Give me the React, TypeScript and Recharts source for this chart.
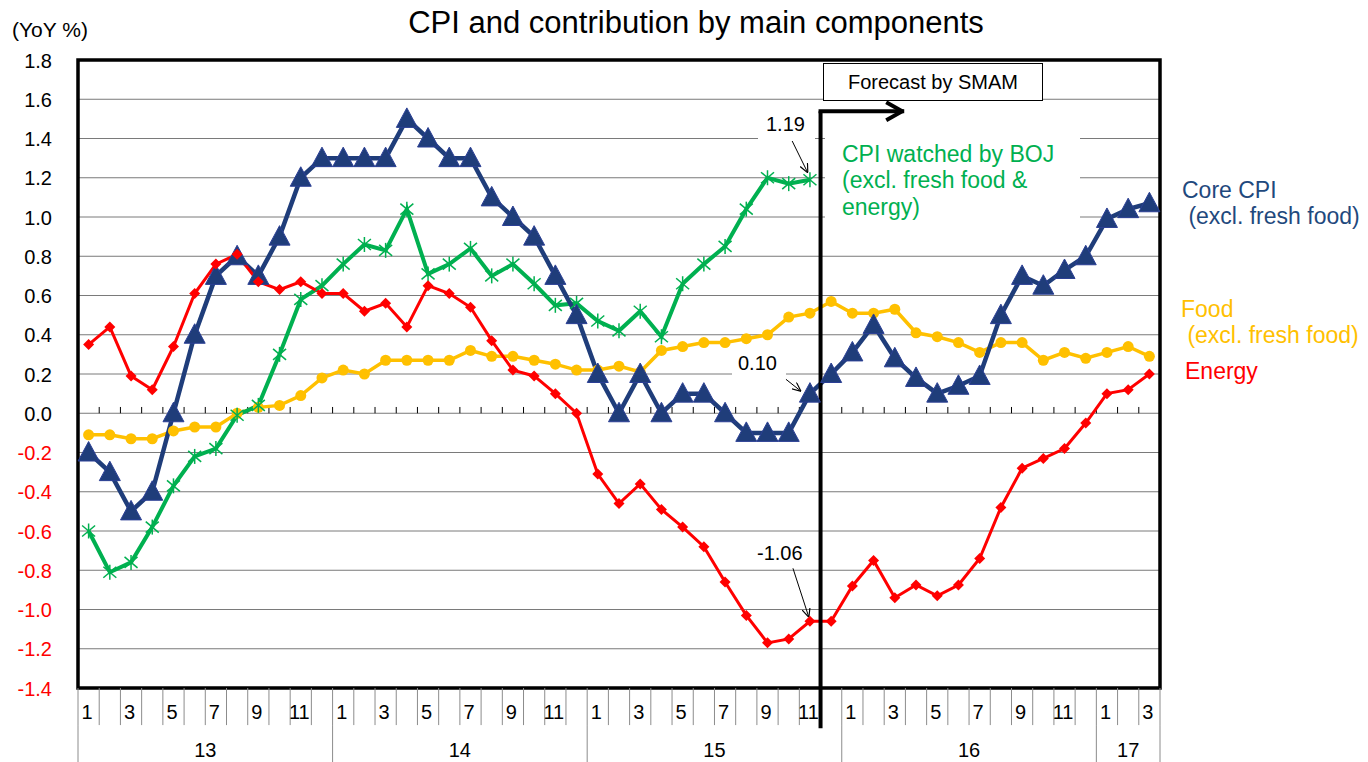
import React from 'react'
import { LineChart, Line, XAxis, YAxis, CartesianGrid, ReferenceLine, ReferenceArea } from 'recharts'

// month number for each point, Jan 2013 .. Mar 2017
const monthLabels = [
  1, 2, 3, 4, 5, 6, 7, 8, 9, 10, 11, 12,
  1, 2, 3, 4, 5, 6, 7, 8, 9, 10, 11, 12,
  1, 2, 3, 4, 5, 6, 7, 8, 9, 10, 11, 12,
  1, 2, 3, 4, 5, 6, 7, 8, 9, 10, 11, 12,
  1, 2, 3,
]
const yearLabels = ['13', '14', '15', '16', '17']
const yearCenters = [5.5, 17.5, 29.5, 41.5, 49]
const yearEdges = [-0.5, 11.5, 23.5, 35.5, 47.5, 50.5]
const yTicks = [-1.4, -1.2, -1.0, -0.8, -0.6, -0.4, -0.2, 0, 0.2, 0.4, 0.6, 0.8, 1.0, 1.2, 1.4, 1.6, 1.8]

const coreCpi = [
  -0.2, -0.3, -0.5, -0.4, 0.0, 0.4, 0.7, 0.8, 0.7, 0.9, 1.2, 1.3,
  1.3, 1.3, 1.3, 1.5, 1.4, 1.3, 1.3, 1.1, 1.0, 0.9, 0.7, 0.5,
  0.2, 0.0, 0.2, 0.0, 0.1, 0.1, 0.0, -0.1, -0.1, -0.1, 0.1, 0.2,
  0.31, 0.45, 0.28, 0.18, 0.1, 0.14, 0.19, 0.5, 0.7, 0.65, 0.73, 0.8,
  0.99, 1.04, 1.07,
]
const food = [
  -0.11, -0.11, -0.13, -0.13, -0.09, -0.07, -0.07, 0.0, 0.03, 0.04, 0.09, 0.18,
  0.22, 0.2, 0.27, 0.27, 0.27, 0.27, 0.32, 0.29, 0.29, 0.27, 0.25, 0.22,
  0.22, 0.24, 0.21, 0.32, 0.34, 0.36, 0.36, 0.38, 0.4, 0.49, 0.51, 0.57,
  0.51, 0.51, 0.53, 0.41, 0.39, 0.36, 0.31, 0.36, 0.36, 0.27, 0.31, 0.28,
  0.31, 0.34, 0.29,
]
const energy = [
  0.35, 0.44, 0.19, 0.12, 0.34, 0.61, 0.76, 0.81, 0.67, 0.63, 0.67, 0.61,
  0.61, 0.52, 0.56, 0.44, 0.65, 0.61, 0.54, 0.37, 0.22, 0.19, 0.1, 0.0,
  -0.31, -0.46, -0.36, -0.49, -0.58, -0.68, -0.86, -1.03, -1.17, -1.15, -1.06, -1.06,
  -0.88, -0.75, -0.94, -0.875, -0.93, -0.875, -0.74, -0.48, -0.28, -0.23, -0.18, -0.05,
  0.1, 0.12, 0.2,
]
// actual data only (to Nov 2015)
const bojCpi = [
  -0.6, -0.81, -0.76, -0.58, -0.37, -0.22, -0.18, -0.01, 0.04, 0.3, 0.58, 0.65,
  0.76, 0.86, 0.83, 1.04, 0.71, 0.76, 0.84, 0.7, 0.76, 0.66, 0.55, 0.56,
  0.47, 0.42, 0.52, 0.39, 0.66, 0.76, 0.85, 1.04, 1.2, 1.17, 1.19,
]

const rows = monthLabels.map((m, i) => ({
  i,
  month: m,
  core: coreCpi[i],
  food: food[i],
  energy: energy[i],
  boj: i < bojCpi.length ? bojCpi[i] : null,
}))

const monthTicks = rows.map(r => r.i)
const monthEdges = [...rows.map(r => r.i - 0.5), rows.length - 0.5]
const zeroTicks = monthEdges.slice(1, -1)

const FONT = '"Liberation Sans", Arial, sans-serif'
const BLUE = '#1F3D7A'
const GREEN = '#00B050'
const RED = '#FF0000'
const GOLD = '#FFC000'

const YTick = (props: any) => {
  const { x, y, payload } = props
  const v = payload.value as number
  return (
    <text x={x - 26} y={y + 7.5} textAnchor="end" fontSize={20} fontFamily={FONT} fill={v < 0 ? RED : '#000'}>
      {v.toFixed(1)}
    </text>
  )
}

const MonthTick = (props: any) => {
  const { x, y, payload } = props
  const m = monthLabels[payload.value]
  if (m % 2 === 0) return <g />
  return (
    <text x={x - 1.5} y={y + 31} textAnchor="middle" fontSize={20} fontFamily={FONT} fill="#000">
      {m}
    </text>
  )
}

const YearTick = (props: any) => {
  const { x, y, payload } = props
  const k = yearCenters.indexOf(payload.value)
  return (
    <text x={x} y={y + 32} textAnchor="middle" fontSize={20} fontFamily={FONT} fill="#000">
      {yearLabels[k]}
    </text>
  )
}

const triDot = (p: any) => {
  if (p.cy == null) return <g key={`t${p.index}`} />
  const { cx, cy } = p
  return (
    <polygon
      key={`t${p.index}`}
      points={`${cx},${cy - 11} ${cx - 10.5},${cy + 8.5} ${cx + 10.5},${cy + 8.5}`}
      fill={BLUE}
      stroke="#2B3F95"
      strokeWidth={1}
    />
  )
}

const starDot = (p: any) => {
  if (p.cy == null) return <g key={`s${p.index}`} />
  const { cx, cy } = p
  return (
    <g key={`s${p.index}`} stroke={GREEN} strokeWidth={1.5}>
      <line x1={cx} y1={cy - 7.5} x2={cx} y2={cy + 7.5} />
      <line x1={cx - 6.5} y1={cy - 5.5} x2={cx + 6.5} y2={cy + 5.5} />
      <line x1={cx - 6.5} y1={cy + 5.5} x2={cx + 6.5} y2={cy - 5.5} />
    </g>
  )
}

const diamondDot = (p: any) => {
  if (p.cy == null) return <g key={`d${p.index}`} />
  const { cx, cy } = p
  return (
    <polygon
      key={`d${p.index}`}
      points={`${cx},${cy - 5.5} ${cx + 5.5},${cy} ${cx},${cy + 5.5} ${cx - 5.5},${cy}`}
      fill={RED}
    />
  )
}

const circleDot = (p: any) => {
  if (p.cy == null) return <g key={`c${p.index}`} />
  return <circle key={`c${p.index}`} cx={p.cx} cy={p.cy} r={5.5} fill={GOLD} />
}

// text placed by baseline
const Txt = ({ x, base, size, color = '#000', center = false, children }: any) => (
  <div
    style={{
      position: 'absolute',
      left: x,
      top: base - 0.8465 * size,
      fontSize: size,
      lineHeight: `${size}px`,
      color,
      fontFamily: FONT,
      whiteSpace: 'pre',
      transform: center ? 'translateX(-50%)' : undefined,
    }}
  >
    {children}
  </div>
)

const WhiteBox = ({ x, y, w, h, border = false }: any) => (
  <div
    style={{
      position: 'absolute',
      left: x,
      top: y,
      width: w,
      height: h,
      background: '#fff',
      border: border ? '1px solid #000' : 'none',
      boxSizing: 'border-box',
    }}
  />
)

export default function App() {
  return (
    <div style={{ position: 'absolute', left: 0, top: 0, width: 1368, height: 762, background: '#fff', overflow: 'hidden' }}>
      <LineChart width={1368} height={762} data={rows} margin={{ top: 60, right: 208, bottom: 0, left: 12 }}>
        <defs>
          <marker id="thinArrow" viewBox="0 0 10 10" refX={10} refY={5} markerWidth={9} markerHeight={9} markerUnits="userSpaceOnUse" orient="auto">
            <path d="M0,0.5 L10,5 L0,9.5" fill="none" stroke="#000" strokeWidth={1.3} />
          </marker>
          <marker id="boldArrow" viewBox="0 0 20 22" refX={18} refY={11} markerWidth={20} markerHeight={22} markerUnits="userSpaceOnUse" orient="auto">
            <path d="M2,2 L18,11 L2,20" fill="none" stroke="#000" strokeWidth={4} />
          </marker>
        </defs>
        <CartesianGrid vertical={false} stroke="#7a7a7a" strokeWidth={1} />
        <XAxis
          xAxisId={0}
          type="number"
          dataKey="i"
          domain={[-0.5, 50.5]}
          ticks={monthTicks}
          interval={0}
          height={37}
          axisLine={false}
          tickLine={false}
          tickSize={0}
          tickMargin={0}
          tick={MonthTick}
        />
        <XAxis
          xAxisId="yr"
          type="number"
          dataKey="i"
          domain={[-0.5, 50.5]}
          ticks={yearCenters}
          interval={0}
          height={37}
          axisLine={false}
          tickLine={false}
          tickSize={0}
          tickMargin={0}
          tick={YearTick}
        />
        <YAxis
          type="number"
          domain={[-1.4, 1.8]}
          ticks={yTicks}
          interval={0}
          width={66}
          axisLine={false}
          tickLine={false}
          tickSize={0}
          tickMargin={0}
          tick={YTick}
        />

        {/* month and year separators under the plot */}
        {monthEdges.map(b => (
          <ReferenceLine key={`ms${b}`} ifOverflow="visible" stroke="#8c8c8c" strokeWidth={1} segment={[{ x: b, y: -1.4 }, { x: b, y: -1.589 }]} />
        ))}
        {yearEdges.map(b => (
          <ReferenceLine key={`ys${b}`} ifOverflow="visible" stroke="#8c8c8c" strokeWidth={1} segment={[{ x: b, y: -1.589 }, { x: b, y: -1.78 }]} />
        ))}
        {/* small tick marks on the zero line */}
        {zeroTicks.map(b => (
          <ReferenceLine key={`zt${b}`} ifOverflow="visible" stroke="#000" strokeWidth={1} segment={[{ x: b, y: 0 }, { x: b, y: 0.032 }]} />
        ))}

        <Line type="linear" dataKey="food" stroke={GOLD} strokeWidth={3.5} dot={circleDot} activeDot={false} isAnimationActive={false} />
        <Line type="linear" dataKey="boj" stroke={GREEN} strokeWidth={4} dot={starDot} activeDot={false} isAnimationActive={false} />
        <Line type="linear" dataKey="core" stroke={BLUE} strokeWidth={4.5} dot={triDot} activeDot={false} isAnimationActive={false} />
        <Line type="linear" dataKey="energy" stroke={RED} strokeWidth={3} dot={diamondDot} activeDot={false} isAnimationActive={false} />

        {/* plot frame */}
        <ReferenceArea x1={-0.5} x2={50.5} y1={-1.4} y2={1.8} ifOverflow="visible" fill="none" stroke="#000" strokeWidth={3.5} />

        {/* forecast divider with arrow */}
        <ReferenceLine ifOverflow="visible" stroke="#000" strokeWidth={4} segment={[{ x: 34.5, y: -1.605 }, { x: 34.5, y: 1.539 }]} />
        <ReferenceLine ifOverflow="visible" stroke="#000" strokeWidth={4} strokeLinecap="square" markerEnd="url(#boldArrow)" segment={[{ x: 34.5, y: 1.539 }, { x: 38.35, y: 1.539 }]} />

        {/* annotation arrows */}
        <ReferenceLine ifOverflow="visible" stroke="#000" strokeWidth={1} markerEnd="url(#thinArrow)" segment={[{ x: 33.15, y: 1.39 }, { x: 33.9, y: 1.225 }]} />
        <ReferenceLine ifOverflow="visible" stroke="#000" strokeWidth={1} markerEnd="url(#thinArrow)" segment={[{ x: 32.87, y: 0.173 }, { x: 33.58, y: 0.112 }]} />
        <ReferenceLine ifOverflow="visible" stroke="#000" strokeWidth={1} markerEnd="url(#thinArrow)" segment={[{ x: 33.2, y: -0.79 }, { x: 33.95, y: -1.04 }]} />
      </LineChart>

      <Txt x={696} base={33} size={31} center>CPI and contribution by main components</Txt>
      <Txt x={12} base={37} size={21}>(YoY %)</Txt>

      <WhiteBox x={823} y={63} w={220} h={38} border />
      <Txt x={933} base={89} size={20} center>Forecast by SMAM</Txt>

      <WhiteBox x={758} y={115} w={57} h={26} />
      <Txt x={766} base={131} size={20}>1.19</Txt>

      <WhiteBox x={825} y={128} w={255} h={98} />
      <Txt x={842} base={162} size={23} color={GREEN}>CPI watched by BOJ</Txt>
      <Txt x={842} base={188} size={23} color={GREEN}>(excl. fresh food &amp;</Txt>
      <Txt x={842} base={215} size={23} color={GREEN}>energy)</Txt>

      <WhiteBox x={732} y={355} w={54} h={22} />
      <Txt x={738} base={370} size={20}>0.10</Txt>

      <WhiteBox x={754} y={543} w={54} h={22} />
      <Txt x={757} base={560} size={20}>-1.06</Txt>

      <Txt x={1182} base={198} size={23} color="#1F497D">Core CPI</Txt>
      <Txt x={1182} base={224} size={23} color="#1F497D"> (excl. fresh food)</Txt>
      <Txt x={1181} base={317} size={23} color={GOLD}>Food</Txt>
      <Txt x={1181} base={343} size={23} color={GOLD}> (excl. fresh food)</Txt>
      <Txt x={1185} base={379} size={23} color={RED}>Energy</Txt>
    </div>
  )
}
